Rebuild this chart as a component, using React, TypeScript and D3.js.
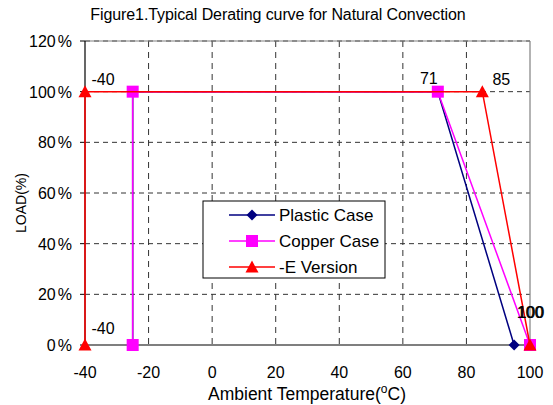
import { useMemo } from "react";
import * as d3 from "d3";

const xTicks = [-40, -20, 0, 20, 40, 60, 80, 100];
const yTicks = [0, 20, 40, 60, 80, 100, 120];

const plasticTemp = [-25, -25, 71, 95];
const plasticLoad = [0, 100, 100, 0];
const copperTemp = [-25, -25, 71, 100];
const copperLoad = [0, 100, 100, 0];
const eTemp = [-40, -40, 85, 100];
const eLoad = [0, 100, 100, 0];

const pointLabels = [
  { t: -40, v: 100, text: "-40" },
  { t: -40, v: 0, text: "-40" },
  { t: 71, v: 100, text: "71" },
  { t: 85, v: 100, text: "85" },
  { t: 100, v: 0, text: "100" },
  { t: 100, v: 0, text: "100" },
];

type Series = { name: string; color: string; marker: "diamond" | "square" | "triangle"; temp: number[]; load: number[] };

const series: Series[] = [
  { name: "Plastic Case", color: "#000080", marker: "diamond", temp: plasticTemp, load: plasticLoad },
  { name: "Copper Case", color: "#FF00FF", marker: "square", temp: copperTemp, load: copperLoad },
  { name: "-E Version", color: "#FF0000", marker: "triangle", temp: eTemp, load: eLoad },
];

const FONT = "'Liberation Sans', Arial, sans-serif";

function Marker({ kind, x, y, color }: { kind: Series["marker"]; x: number; y: number; color: string }) {
  if (kind === "diamond") {
    const r = 5.5;
    return <path d={`M${x},${y - r}L${x + r},${y}L${x},${y + r}L${x - r},${y}Z`} fill={color} />;
  }
  if (kind === "square") {
    const s = 12;
    return <rect x={x - s / 2} y={y - s / 2} width={s} height={s} fill={color} />;
  }
  const h = 11;
  return <path d={`M${x},${y - h / 2 - 1}L${x + 6.5},${y + h / 2}L${x - 6.5},${y + h / 2}Z`} fill={color} />;
}

export default function App() {
  const W = 553;
  const H = 405;
  const mg = { left: 85, right: 23, top: 41, bottom: 60 };
  const x = useMemo(() => d3.scaleLinear().domain([-40, 100]).range([mg.left, W - mg.right]), []);
  const y = useMemo(() => d3.scaleLinear().domain([0, 120]).range([H - mg.bottom, mg.top]), []);
  const line = d3
    .line<[number, number]>()
    .x((d) => x(d[0]))
    .y((d) => y(d[1]));

  const x0 = x(-40);
  const x1 = x(100);
  const y0 = y(0);
  const y1 = y(120);

  const labelOffset = (text: string, i: number) => {
    if (text === "71") return { dx: -9, dy: -14 };
    if (text === "85") return { dx: 19, dy: -13 };
    if (text === "100") return { dx: i === 5 ? 1 : 0, dy: -33 };
    return { dx: 18, dy: i === 1 ? -17 : -13 };
  };

  const legend = { x: 203, y: 201, w: 182, h: 77 };

  return (
    <svg
      width={W}
      height={H}
      viewBox={`0 0 ${W} ${H}`}
      style={{ position: "absolute", left: 0, top: 0, background: "#fff" }}
      fontFamily={FONT}
    >
      <rect width={W} height={H} fill="#fff" />
      <text x={278} y={20} fontSize={16} textAnchor="middle" letterSpacing={-0.1} fill="#000">
        Figure1.Typical Derating curve for Natural Convection
      </text>

      {/* grid */}
      {yTicks
        .filter((v) => v > 0)
        .map((v) => (
          <line key={`gy${v}`} x1={x0} x2={x1} y1={y(v)} y2={y(v)} stroke="#333" strokeWidth={1} strokeDasharray="5,4" />
        ))}
      {xTicks
        .filter((t) => t > -40 && t < 100)
        .map((t) => (
          <line key={`gx${t}`} x1={x(t)} x2={x(t)} y1={y1} y2={y0} stroke="#333" strokeWidth={1} strokeDasharray="6,5" />
        ))}

      {/* frame */}
      <line x1={x0} x2={x1} y1={y1} y2={y1} stroke="#808080" strokeWidth={1.2} />
      <line x1={x1} x2={x1} y1={y1} y2={y0} stroke="#808080" strokeWidth={1.2} />
      <line x1={x0} x2={x1} y1={y0} y2={y0} stroke="#000" strokeWidth={1.2} />
      <line x1={x0} x2={x0} y1={y1} y2={y0} stroke="#000" strokeWidth={1.2} />
      {yTicks.map((v) => (
        <line key={`ty${v}`} x1={x0 - 5} x2={x0} y1={y(v)} y2={y(v)} stroke="#000" strokeWidth={1} />
      ))}

      {/* tick labels */}
      {yTicks.map((v) => (
        <text key={`ly${v}`} x={72} y={y(v) + 6} fontSize={16} textAnchor="end" fill="#000">
          {v}
          <tspan dx={2}>%</tspan>
        </text>
      ))}
      {xTicks.map((t) => (
        <text key={`lx${t}`} x={x(t)} y={378} fontSize={16} textAnchor="middle" fill="#000">
          {t}
        </text>
      ))}

      {/* series */}
      {series.map((s) => {
        const pts = s.temp.map((t, i) => [t, s.load[i]] as [number, number]);
        return (
          <g key={s.name}>
            <path d={line(pts) ?? ""} fill="none" stroke={s.color} strokeWidth={1.5} />
            {pts.map((p, i) => (
              <Marker key={i} kind={s.marker} x={x(p[0])} y={y(p[1])} color={s.color} />
            ))}
          </g>
        );
      })}

      {/* data labels */}
      {pointLabels.map((l, i) => {
        const o = labelOffset(l.text, i);
        return (
          <text key={`pl${i}`} x={x(l.t) + o.dx} y={y(l.v) + o.dy + 6} fontSize={16} textAnchor="middle" fill="#000">
            {l.text}
          </text>
        );
      })}

      {/* legend */}
      <rect x={legend.x} y={legend.y} width={legend.w} height={legend.h} fill="#fff" stroke="#000" strokeWidth={1} />
      {series.map((s, i) => {
        const ly = legend.y + 14 + i * 26;
        return (
          <g key={`lg${s.name}`}>
            <line x1={229} x2={275} y1={ly} y2={ly} stroke={s.color} strokeWidth={1.5} />
            <Marker kind={s.marker} x={252} y={ly} color={s.color} />
            <text x={279} y={ly + 6} fontSize={17} fill="#000">
              {s.name}
            </text>
          </g>
        );
      })}

      {/* axis titles */}
      <text x={307} y={400} fontSize={17.5} textAnchor="middle" fill="#000">
        Ambient Temperature(
        <tspan dy={-7} fontSize={12}>o</tspan>
        <tspan dy={7}>C)</tspan>
      </text>
      <text
        transform={`translate(26,${(y0 + y1) / 2 + 10}) rotate(-90)`}
        fontSize={14}
        textAnchor="middle"
        fill="#000"
      >
        LOAD(%)
      </text>
    </svg>
  );
}
